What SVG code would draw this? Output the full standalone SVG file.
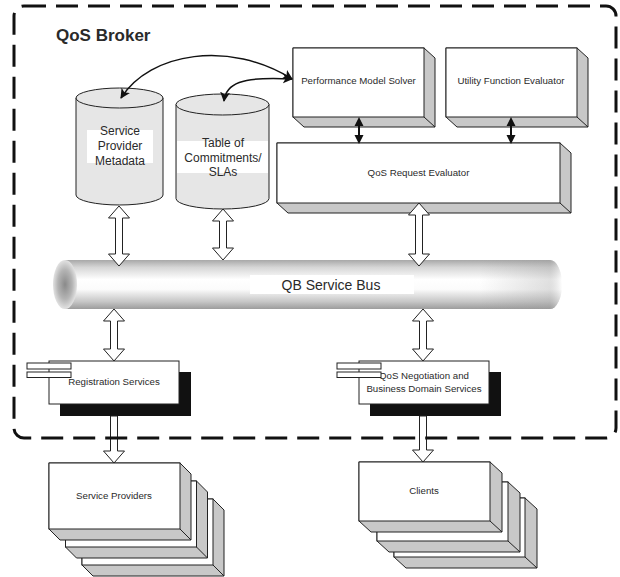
<svg xmlns="http://www.w3.org/2000/svg" width="620" height="577" viewBox="0 0 620 577">
<style>
text{font-family:"Liberation Sans",Arial,sans-serif;fill:#2a2a2a}
.lbl{font-size:9.7px;text-anchor:middle}
.cyl{font-size:12px;text-anchor:middle}
.face{fill:#c8c8c8;stroke:#222;stroke-width:1}
.front{fill:#fff;stroke:#222;stroke-width:1}
.db{fill:#e6e6e6;stroke:#222;stroke-width:1}
.hollow{fill:#fff;stroke:#222;stroke-width:1}
.solid{fill:#111;stroke:none}
.curve{fill:none;stroke:#111;stroke-width:1.5}
.shadow{fill:#111}
.icon{fill:#fff;stroke:#222;stroke-width:1}
</style>
<defs>
<marker id="ah" viewBox="0 0 10 10" refX="9" refY="5" markerWidth="10" markerHeight="10" markerUnits="userSpaceOnUse" orient="auto-start-reverse">
<path d="M0,0 L10,5 L0,10 L2.5,5 Z" fill="#111"/>
</marker>
<linearGradient id="busG" x1="0" y1="0" x2="0" y2="1">
<stop offset="0" stop-color="#a8a8a8"/>
<stop offset="0.15" stop-color="#d6d6d6"/>
<stop offset="0.4" stop-color="#ffffff"/>
<stop offset="0.6" stop-color="#fbfbfb"/>
<stop offset="0.85" stop-color="#c6c6c6"/>
<stop offset="1" stop-color="#9c9c9c"/>
</linearGradient>
<linearGradient id="busR" x1="0" y1="0" x2="1" y2="0">
<stop offset="0" stop-color="#999" stop-opacity="0"/>
<stop offset="0.85" stop-color="#999" stop-opacity="0.3"/>
<stop offset="1" stop-color="#fff" stop-opacity="0.5"/>
</linearGradient>
<radialGradient id="capG" cx="0.5" cy="0.5" r="0.5">
<stop offset="0" stop-color="#8a8a8a"/>
<stop offset="0.6" stop-color="#b4b4b4"/>
<stop offset="1" stop-color="#e2e2e2"/>
</radialGradient>
</defs>

<text x="56" y="41" style="font-size:17px;font-weight:bold">QoS Broker</text>

<g id="service-provider-metadata">
<path class="db" d="M76,98 L76,195 A43.5,10 0 0 0 163,195 L163,98 Z"/>
<ellipse class="db" cx="119.5" cy="98" rx="43.5" ry="10"/>
<rect x="87" y="130" width="66" height="33" fill="#fff"/>
<text class="cyl" x="120" y="135">Service</text>
<text class="cyl" x="120" y="150">Provider</text>
<text class="cyl" x="120" y="164.5">Metadata</text>
</g>

<g id="table-of-commitments">
<path class="db" d="M176,104.5 L176,198.5 A46.5,10.5 0 0 0 269,198.5 L269,104.5 Z"/>
<ellipse class="db" cx="222.5" cy="104.5" rx="46.5" ry="10.5"/>
<rect x="177" y="141" width="91" height="32" fill="#fff"/>
<text class="cyl" x="223" y="147">Table of</text>
<text class="cyl" x="223" y="162">Commitments/</text>
<text class="cyl" x="223" y="176">SLAs</text>
</g>

<g id="performance-model-solver">
<polygon class="face" points="293,48 424,48 435,58 435,127 304,127 293,117"/>
<line x1="424" y1="117" x2="435" y2="127" stroke="#222"/>
<rect class="front" x="293" y="48" width="131" height="69"/>
<text class="lbl" x="358.5" y="84">Performance Model Solver</text>
</g>

<g id="utility-function-evaluator">
<polygon class="face" points="446,48 577,48 588,58 588,127 457,127 446,117"/>
<line x1="577" y1="117" x2="588" y2="127" stroke="#222"/>
<rect class="front" x="446" y="48" width="131" height="69"/>
<text class="lbl" x="511" y="84">Utility Function Evaluator</text>
</g>

<g id="qos-request-evaluator">
<polygon class="face" points="277,143 560,143 571,153 571,213 288,213 277,203"/>
<line x1="560" y1="203" x2="571" y2="213" stroke="#222"/>
<rect class="front" x="277" y="143" width="283" height="60"/>
<text class="lbl" x="418.5" y="176">QoS Request Evaluator</text>
</g>

<g id="qb-service-bus">
<path d="M65,260 L550,260 A12,24.5 0 0 1 550,309 L65,309 Z" fill="url(#busG)"/>
<path d="M480,260 L550,260 A12,24.5 0 0 1 550,309 L480,309 Z" fill="url(#busR)"/>
<ellipse cx="65" cy="284.5" rx="12" ry="24.5" fill="url(#capG)"/>
<rect x="250" y="275" width="164" height="19" fill="#fff"/>
<text x="331" y="289.5" style="font-size:14px;text-anchor:middle">QB Service Bus</text>
</g>

<g id="registration-services">
<rect class="shadow" x="60" y="372" width="131" height="44"/>
<rect class="front" x="49" y="361" width="130" height="43"/>
<rect class="icon" x="27" y="363" width="44" height="6"/>
<rect class="icon" x="27" y="372" width="44" height="5.5"/>
<text class="lbl" x="114" y="385">Registration Services</text>
</g>

<g id="qos-negotiation">
<rect class="shadow" x="370" y="372" width="131" height="44"/>
<rect class="front" x="359" y="361" width="130" height="43"/>
<text class="lbl" x="424" y="379">QoS Negotiation and</text>
<text class="lbl" x="424" y="392">Business Domain Services</text>
<rect class="icon" x="337" y="363" width="44" height="6"/>
<rect class="icon" x="337" y="372" width="44" height="5.5"/>
</g>

<g id="service-providers">
<g transform="translate(33,36)">
<polygon class="face" points="49,463 180,463 191,474 191,540 60,540 49,529"/>
<line x1="180" y1="529" x2="191" y2="540" stroke="#222"/>
<rect class="front" x="49" y="463" width="131" height="66"/>
</g>
<g transform="translate(16.5,18)">
<polygon class="face" points="49,463 180,463 191,474 191,540 60,540 49,529"/>
<line x1="180" y1="529" x2="191" y2="540" stroke="#222"/>
<rect class="front" x="49" y="463" width="131" height="66"/>
</g>
<polygon class="face" points="49,463 180,463 191,474 191,540 60,540 49,529"/>
<line x1="180" y1="529" x2="191" y2="540" stroke="#222"/>
<rect class="front" x="49" y="463" width="131" height="66"/>
<text class="lbl" x="114" y="499">Service Providers</text>
</g>

<g id="clients">
<g transform="translate(35,36)">
<polygon class="face" points="359,462 490,462 502,473 502,532 371,532 359,521"/>
<line x1="490" y1="521" x2="502" y2="532" stroke="#222"/>
<rect class="front" x="359" y="462" width="131" height="59"/>
</g>
<g transform="translate(18,20)">
<polygon class="face" points="359,462 490,462 502,473 502,532 371,532 359,521"/>
<line x1="490" y1="521" x2="502" y2="532" stroke="#222"/>
<rect class="front" x="359" y="462" width="131" height="59"/>
</g>
<polygon class="face" points="359,462 490,462 502,473 502,532 371,532 359,521"/>
<line x1="490" y1="521" x2="502" y2="532" stroke="#222"/>
<rect class="front" x="359" y="462" width="131" height="59"/>
<text class="lbl" x="424" y="494">Clients</text>
</g>

<g id="connectors">
<path class="curve" d="M121,98 C150,52 230,40 292,79" marker-start="url(#ah)" marker-end="url(#ah)"/>
<path class="curve" d="M224,101 C226,84 240,76 292,79" marker-start="url(#ah)" marker-end="url(#ah)"/>
<polygon class="solid" points="359,117 363.5,126 360,126 360,135 363.5,135 359,144 354.5,135 358,135 358,126 354.5,126"/>
<polygon class="solid" points="511,117 515.5,126 512,126 512,135 515.5,135 511,144 506.5,135 510,135 510,126 506.5,126"/>
<polygon class="hollow" points="119,206 129.5,218 122.5,218 122.5,254 129.5,254 119,266 108.5,254 115.5,254 115.5,218 108.5,218"/>
<polygon class="hollow" points="223,209 233.5,221 226.5,221 226.5,248 233.5,248 223,260 212.5,248 219.5,248 219.5,221 212.5,221"/>
<polygon class="hollow" points="419,203 429.5,215 422.5,215 422.5,254 429.5,254 419,266 408.5,254 415.5,254 415.5,215 408.5,215"/>
<polygon class="hollow" points="114,309 124.5,321 117.5,321 117.5,349 124.5,349 114,361 103.5,349 110.5,349 110.5,321 103.5,321"/>
<polygon class="hollow" points="423,309 433.5,321 426.5,321 426.5,349 433.5,349 423,361 412.5,349 419.5,349 419.5,321 412.5,321"/>
<polygon class="hollow" points="110.5,416 117.5,416 117.5,451 124.5,451 114,463 103.5,451 110.5,451"/>
<polygon class="hollow" points="419.5,416 426.5,416 426.5,450 433.5,450 423,462 412.5,450 419.5,450"/>
</g>

<rect id="qos-broker-boundary" x="14" y="6" width="602" height="432" rx="10" fill="none" stroke="#111" stroke-width="3" stroke-dasharray="22 10"/>
</svg>
